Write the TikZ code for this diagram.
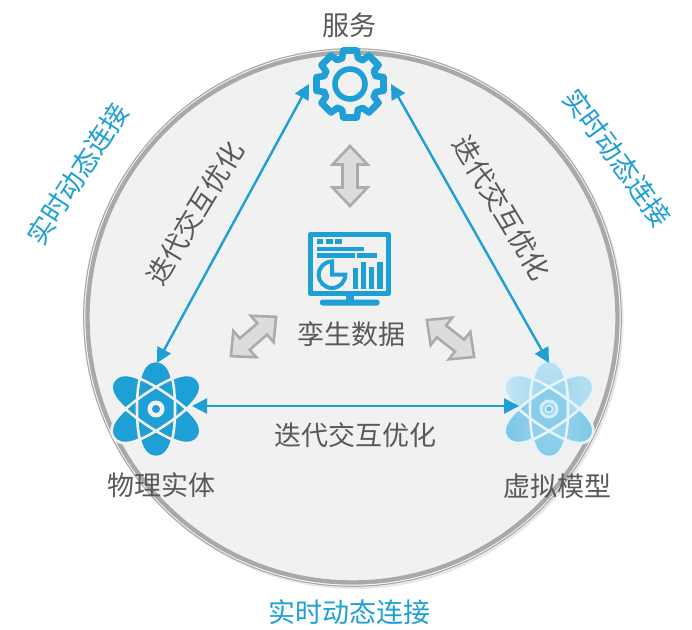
\documentclass[tikz,border=0pt]{standalone}
\usepackage{fontspec}
\setmainfont{Noto Sans CJK SC}
\usetikzlibrary{arrows.meta}
\definecolor{tblue}{HTML}{1E9FD6}
\definecolor{tgray}{HTML}{595959}
\definecolor{panel}{HTML}{F1F1F1}
\definecolor{ringgray}{HTML}{A9A9A9}
\definecolor{blockfill}{HTML}{DCDCDC}
\definecolor{blockline}{HTML}{ABABAB}
\tikzset{
  darktext/.style={text=tgray,font=\fontsize{27}{30}\selectfont,inner sep=0pt},
  bluetext/.style={text=tblue,font=\fontsize{27}{30}\selectfont,inner sep=0pt},
  linkarrow/.style={draw=tblue,line width=2.4pt,{Triangle[length=15pt,width=15pt]}-{Triangle[length=15pt,width=15pt]}},
  blockarrow/.style={draw=blockline,fill=blockfill,line width=2.6pt,miter limit=4},
  iconline/.style={draw=tblue,line width=5pt,line join=round,line cap=round},
}
\newcommand{\blockarr}[3]{%
  \draw[blockarrow,shift={(#1,#2)},rotate=#3]
    (0,-30)--(17.5,-11.5)--(7.5,-11.5)--(7.5,11.5)--(17.5,11.5)--(0,30)
    --(-17.5,11.5)--(-7.5,11.5)--(-7.5,-11.5)--(-17.5,-11.5)--cycle;}
% orbit outline: half length #1, half width #2
\newcommand{\orbit}[2]{%
  (0,-#1) .. controls ({.62*#2},-#1) and (#2,{-.74*#1}) .. (#2,0)
  .. controls (#2,{.74*#1}) and ({.62*#2},#1) .. (0,#1)
  .. controls ({-.62*#2},#1) and (-#2,{.74*#1}) .. (-#2,0)
  .. controls (-#2,{-.74*#1}) and ({-.62*#2},-#1) .. (0,-#1) -- cycle}
\begin{document}
\begin{tikzpicture}[x=1pt,y=-1pt]
\useasboundingbox (0,0) rectangle (692,629);
\fill[white] (0,0) rectangle (692,629);
% shadow + disc
\fill[black!9] (354.5,320) circle[radius=269];
\fill[white] (352.5,317.5) circle[radius=269.5];
\draw[ringgray,line width=1.2pt] (352.5,317.5) circle[radius=268.8];
\fill[panel] (352.5,317.5) circle[radius=265];
\draw[ringgray,line width=4.4pt] (352.5,317.5) circle[radius=265];
% gear
\begin{scope}[shift={(350,84)}]
  \fill[panel] (0,0) circle[radius=28];
  \foreach \a in {0,45,...,315}{
    \fill[panel] (\a-17:27)--(\a-11.5:34.2)--(\a+11.5:34.2)--(\a+17:27)--cycle;
    \draw[tblue,line width=6.6pt,line join=round,line cap=round]
      (\a-17:27)--(\a-11.5:34.2)--(\a+11.5:34.2)--(\a+17:27)--(\a+28:27);
  }
  \draw[tblue,line width=5.6pt] (0,0) circle[radius=15];
\end{scope}
\coordinate (svcL) at (309,84);
\coordinate (svcR) at (391,84);
% left atom
\begin{scope}[shift={(156,409)}]
  \fill[tblue] \orbit{48}{19};
  \fill[tblue,rotate=56] \orbit{51}{18.5};
  \fill[tblue,rotate=-56] \orbit{51}{18.5};
  \draw[panel,line width=2.6pt] \orbit{48}{19};
  \draw[panel,line width=2.6pt,rotate=56] \orbit{51}{18.5};
  \draw[panel,line width=2.6pt,rotate=-56] \orbit{51}{18.5};
  \fill[panel] (0,0) circle[radius=8.5];
  \fill[tblue] (0,0) circle[radius=4];
\end{scope}
\coordinate (physT) at (157,363);
\coordinate (physR) at (192,406);
% right atom
\begin{scope}[shift={(549,409)}]
  \shade[top color=tblue!30!white,bottom color=tblue!55!white] \orbit{48}{19};
  \shade[left color=tblue!25!white,right color=tblue!60!white,rotate=56] \orbit{51}{18.5};
  \shade[left color=tblue!60!white,right color=tblue!30!white,rotate=-56] \orbit{51}{18.5};
  \fill[tblue!52!white] (90:20)--(30:20)--(-30:20)--(-90:20)--(-150:20)--(150:20)--cycle;
  \draw[tblue!12!white,line width=2.6pt] \orbit{48}{19};
  \draw[tblue!12!white,line width=2.6pt,rotate=56] \orbit{51}{18.5};
  \draw[tblue!12!white,line width=2.6pt,rotate=-56] \orbit{51}{18.5};
  \fill[tblue!18!white] (0,0) circle[radius=9.5];
  \fill[tblue!42!white] (0,0) circle[radius=6.5];
  \fill[tblue!18!white] (0,0) circle[radius=4.5];
  \fill[tblue!65!white] (0,0) circle[radius=2.5];
\end{scope}
\coordinate (virtT) at (549,363);
\coordinate (virtL) at (519,406);
% connectors
\draw[linkarrow] (svcL)--(physT);
\draw[linkarrow] (svcR)--(virtT);
\draw[linkarrow] (physR)--(virtL);
% block arrows
\blockarr{350}{176}{0}
\blockarr{253.5}{336.5}{-49}
\blockarr{450.5}{338.5}{52}
% monitor
\draw[iconline] (310.8,234.2) rectangle (388.2,293.5);
\fill[tblue] (346,296)rectangle(353.5,300);
\fill[tblue,rounded corners=2.5pt] (320,299.5) rectangle (379.5,305.5);
\fill[tblue] (316.7,239.3)rectangle(323.3,244);
\fill[tblue] (326,239.3)rectangle(332.7,244);
\fill[tblue] (335,239.3)rectangle(341.7,244);
\fill[tblue] (316.7,246.7)rectangle(364,251.3);
\fill[tblue] (316.7,253.3)rectangle(355,258);
\fill[tblue] (357.3,253.3)rectangle(377.3,258);
\fill[tblue] (352.7,268.3)rectangle(358,289);
\fill[tblue] (360.7,261.7)rectangle(366,289);
\fill[tblue] (369,266.7)rectangle(374.3,289);
\fill[tblue] (377.3,261.7)rectangle(382.7,289);
\draw[tblue,line width=4pt,line join=miter,shift={(332,274.7)}] (0,0)--(13.3,0) arc[start angle=0,end angle=270,radius=13.3]--cycle;
% labels
\node[darktext] (svc) at (349,25) {服务};
\node[darktext] (twin) at (351,334) {孪生数据};
\node[darktext] (phys) at (161,485) {物理实体};
\node[darktext] (virt) at (557,486) {虚拟模型};
\node[darktext] (iterB) at (355,435) {迭代交互优化};
\node[darktext,rotate=59] (iterL) at (195,213) {迭代交互优化};
\node[darktext,rotate=-59] (iterR) at (502,208) {迭代交互优化};
\node[bluetext] (linkB) at (349,612) {实时动态连接};
\node[bluetext,rotate=57] (linkL) at (77.5,174) {实时动态连接};
\node[bluetext,rotate=-54] (linkR) at (617.5,157.5) {实时动态连接};
\end{tikzpicture}
\end{document}
